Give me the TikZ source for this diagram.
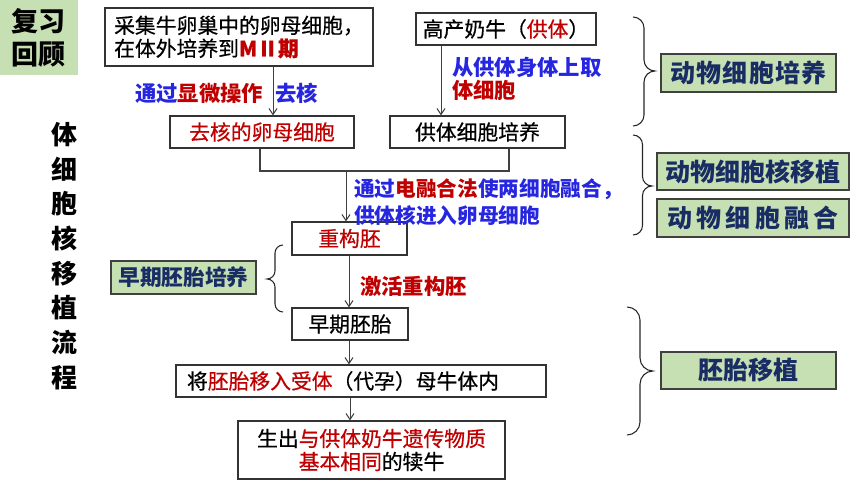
\documentclass[tikz,border=0pt]{standalone}
\usepackage{fontspec}
\setmainfont{Noto Sans CJK SC}
\newfontfamily\medfont[FakeBold=0.6]{Noto Sans CJK SC}
\usetikzlibrary{arrows.meta}
\definecolor{myred}{RGB}{192,0,0}
\definecolor{myblue}{RGB}{38,38,224}
\definecolor{navy}{RGB}{25,45,100}
\definecolor{lgreen}{RGB}{198,224,180}
\definecolor{arrgray}{RGB}{64,64,64}
\tikzset{
  flowbox/.style={draw=black!80, line width=0.9pt, fill=white, inner sep=0pt, align=center,
    font=\fontsize{15.6pt}{17.25pt}\medfont},
  gbox/.style={draw=black!75, line width=0.9pt, fill=lgreen, inner sep=0pt, align=center,
    text=navy, font=\fontsize{18.75pt}{22pt}\selectfont\bfseries},
  lbl/.style={inner sep=0pt, align=left, font=\fontsize{16pt}{17.25pt}\selectfont\bfseries},
  arr/.style={draw=arrgray, line width=0.75pt, -{Straight Barb[length=4.5pt,width=6pt]}},
  joinline/.style={draw=arrgray, line width=0.9pt},
  bracestyle/.style={draw=black!85, line width=0.8pt},
}
% #1=x0, #2=xm, #3=xt(tip), #4=y1, #5=ytip, #6=y2
\newcommand{\mybracepath}[6]{%
  \draw[bracestyle] (#1,#4) .. controls ({#1+0.55*(#2-#1)},#4) and (#2,{#4+0.45*abs(#2-#1)}) .. (#2,{#4+abs(#2-#1)})
    -- (#2,{#5-abs(#2-#1)}) .. controls (#2,{#5-0.45*abs(#2-#1)}) and ({#2+0.45*(#3-#2)},#5) .. (#3,#5)
    .. controls ({#2+0.45*(#3-#2)},#5) and (#2,{#5+0.45*abs(#2-#1)}) .. (#2,{#5+abs(#2-#1)})
    -- (#2,{#6-abs(#2-#1)}) .. controls (#2,{#6-0.45*abs(#2-#1)}) and ({#1+0.55*(#2-#1)},#6) .. (#1,#6);}
\begin{document}
\begin{tikzpicture}[x=0.75pt,y=-0.75pt]
\useasboundingbox (0,0) rectangle (860,484);

% review tag and title
\node[fill=lgreen, minimum width=58.5pt, minimum height=56.25pt, inner sep=0pt, align=center,
  font=\fontsize{20.25pt}{24.75pt}\selectfont\bfseries] (review) at (39,37.5) {复习\\回顾};
\node[inner sep=0pt, align=center, font=\fontsize{19.5pt}{26pt}\selectfont\bfseries] (title) at (64,256)
  {体\\细\\胞\\核\\移\\植\\流\\程};

% flow boxes
\node[flowbox, align=left, minimum width=201pt, minimum height=43.5pt] (box1) at (239,37)
  {采集牛卵巢中的卵母细胞，\\在体外培养到\textcolor{myred}{\bfseries MⅡ期}};
\node[flowbox, minimum width=135pt, minimum height=24pt] (box2) at (506,29)
  {高产奶牛（\textcolor{myred}{供体}）};
\node[flowbox, text=myred, minimum width=138pt, minimum height=24pt] (box3) at (262,132) {去核的卵母细胞};
\node[flowbox, minimum width=131.25pt, minimum height=24pt] (box4) at (477.5,132) {供体细胞培养};
\node[flowbox, text=myred, minimum width=86.25pt, minimum height=24.75pt] (box5) at (349.5,238.5) {重构胚};
\node[flowbox, minimum width=87pt, minimum height=24pt] (box6) at (350,324) {早期胚胎};
\node[flowbox, align=left, text width=261pt, minimum width=277.5pt, minimum height=24pt] (box7) at (361,381)
  {将\textcolor{myred}{胚胎移入受体}（代孕）母牛体内};
\node[flowbox, minimum width=200.25pt, minimum height=43.5pt] (box8) at (371.5,450)
  {生出\textcolor{myred}{与供体奶牛遗传物质}\\\textcolor{myred}{基本相同}的犊牛};

% green category boxes
\node[gbox, minimum width=131.25pt, minimum height=28.5pt] (g1) at (748.5,73) {动\kern0.05em物\kern0.05em细\kern0.05em胞\kern0.05em培\kern0.05em养};
\node[gbox, minimum width=144pt, minimum height=27.75pt] (g2) at (753,171.5) {动物细胞核移植};
\node[gbox, minimum width=144pt, minimum height=28.5pt] (g3) at (753,218) {动\,物\,细\,胞\,融\,合};
\node[gbox, minimum width=131.25pt, minimum height=27.75pt] (g4) at (748.5,370.5) {胚胎移植};
\node[gbox, minimum width=108.75pt, minimum height=24.75pt, font=\fontsize{16.3pt}{20pt}\selectfont\bfseries] (g5) at (183.5,277.5) {早期胚胎培养};

% labels
\node[lbl] (l1) at (226.5,93) {\textcolor{myblue}{通过}\textcolor{myred}{显微操作}\hspace{9pt}\textcolor{myblue}{去核}};
\node[lbl, anchor=west] (l2) at (452,78.5) {\textcolor{myblue}{从供体身体上取}\\\textcolor{myred}{体细胞}};
\node[lbl, anchor=west, font=\fontsize{15.5pt}{20.25pt}\selectfont\bfseries] (l3) at (354,202.5)
  {\textcolor{myblue}{通过}\textcolor{myred}{电融合法}\textcolor{myblue}{使两细胞融合，}\\\textcolor{myblue}{供体核进入卵母细胞}};
\node[lbl, anchor=west, text=myred] (l4) at (360,286) {激活重构胚};

% connectors
\coordinate (a1) at (273,0);
\coordinate (a2) at (441,0);
\coordinate (jl) at (260,171);
\coordinate (jr) at (509,171);
\coordinate (jm) at (346,171);
\coordinate (a3) at (349,0);
\coordinate (a4) at (349,0);
\coordinate (a5) at (350,0);
\draw[arr] (box1.south -| a1) -- (box3.north -| a1);
\draw[arr] (box2.south -| a2) -- (box4.north -| a2);
\draw[joinline] (box3.south -| jl) -- (jl) -- (jr) -- (box4.south -| jr);
\draw[arr] (jm) -- (box5.north -| jm);
\draw[arr] (box5.south -| a3) -- (box6.north -| a3);
\draw[arr] (box6.south -| a4) -- (box7.north -| a4);
\draw[arr] (box7.south -| a5) -- (box8.north -| a5);

% braces
\mybracepath{633}{644}{655}{17}{71}{126}
\mybracepath{633}{642.5}{652}{135}{186}{235}
\mybracepath{627}{640}{653}{307}{371}{435}
\mybracepath{283}{275}{267}{245}{279}{312}
\end{tikzpicture}
\end{document}
